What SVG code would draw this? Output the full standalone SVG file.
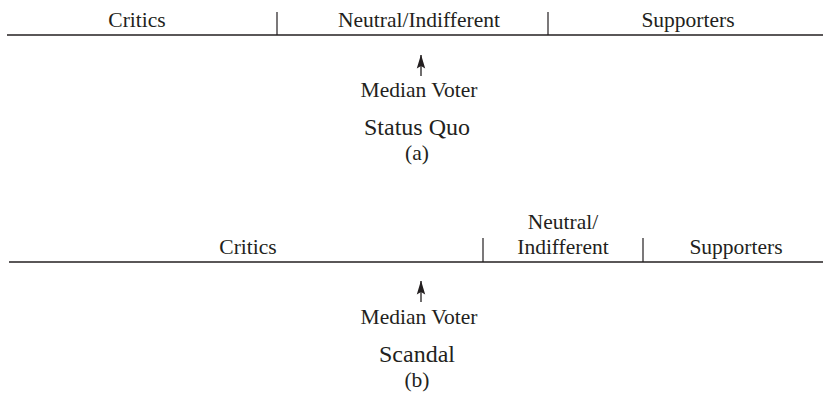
<svg xmlns="http://www.w3.org/2000/svg" width="823" height="396" viewBox="0 0 823 396" font-family="Liberation Serif, serif">
<style>
text{font-size:21.5px;fill:#231f20;text-anchor:middle}
.big{font-size:24px}
.axis{stroke:#231f20;stroke-width:1.6;fill:none}
.tick{stroke:#231f20;stroke-width:1.2;fill:none}
.arr{stroke:#231f20;stroke-width:1.3;fill:none}
</style>
<defs>
<marker id="ah" viewBox="0 0 14 10" refX="13.5" refY="5" markerWidth="14" markerHeight="10" markerUnits="userSpaceOnUse" orient="auto">
<path d="M14 5 L0 0.8 L2.5 5 L0 9.2 Z" fill="#231f20"/>
</marker>
</defs>
<g id="panel-a">
<g id="axis-a">
<line class="axis" x1="7" y1="35" x2="823" y2="35"/>
<line class="tick" x1="277" y1="12" x2="277" y2="35"/>
<line class="tick" x1="548" y1="12" x2="548" y2="35"/>
</g>
<g id="critics-a"><text x="137" y="27">Critics</text></g>
<g id="neutral-a"><text x="419" y="27">Neutral/Indifferent</text></g>
<g id="supporters-a"><text x="688" y="27">Supporters</text></g>
<g id="median-a"><text x="419" y="97">Median Voter</text></g>
<g id="title-a">
<text class="big" x="417" y="135">Status Quo</text>
<text x="417" y="160">(a)</text>
</g>
</g>
<g id="panel-b">
<g id="axis-b">
<line class="axis" x1="9" y1="262" x2="823" y2="262"/>
<line class="tick" x1="483" y1="238" x2="483" y2="262"/>
<line class="tick" x1="643" y1="238" x2="643" y2="262"/>
</g>
<g id="critics-b"><text x="248" y="254">Critics</text></g>
<g id="neutral-b"><text x="563" y="229">Neutral/</text><text x="563" y="254">Indifferent</text></g>
<g id="supporters-b"><text x="736" y="254">Supporters</text></g>
<g id="median-b"><text x="419" y="324">Median Voter</text></g>
<g id="title-b">
<text class="big" x="417" y="362">Scandal</text>
<text x="417" y="387">(b)</text>
</g>
</g>
<g id="connectors">
<line class="arr" x1="421" y1="76" x2="421" y2="55" marker-end="url(#ah)"/>
<line class="arr" x1="421" y1="302" x2="421" y2="281" marker-end="url(#ah)"/>
</g>
</svg>
